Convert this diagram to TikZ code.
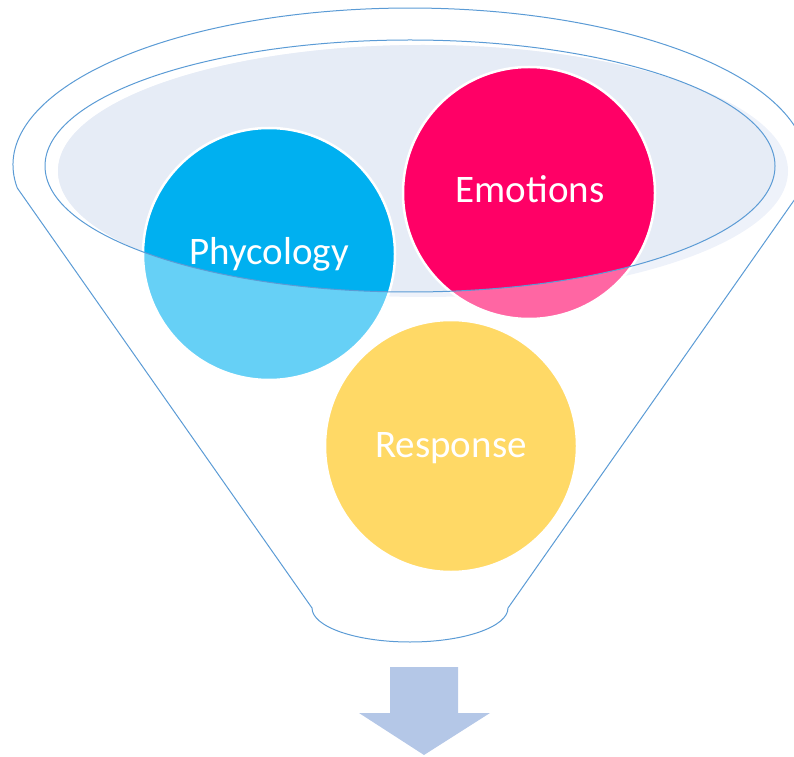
\documentclass[tikz,border=0pt]{standalone}
\usepackage{fontspec}
\setmainfont{Carlito}
\definecolor{lineblue}{HTML}{5B9BD5}
\definecolor{fillout}{HTML}{EEF2FA}
\definecolor{fillin}{HTML}{E6ECF6}
\definecolor{phyc}{HTML}{00B0F0}
\definecolor{phyl}{HTML}{66D0F6}
\definecolor{emoc}{HTML}{FF0066}
\definecolor{emol}{HTML}{FF66A3}
\definecolor{resc}{HTML}{FFC000}
\definecolor{resl}{HTML}{FFD966}
\definecolor{arrowc}{HTML}{B4C7E7}
\begin{document}
\begin{tikzpicture}[x=1pt,y=1pt,
  funnelline/.style={draw=lineblue,line width=1pt},
  ring/.style={draw=white,line width=2.5pt},
  lbl/.style={text=white,font=\fontsize{39}{46}\selectfont,anchor=base,inner sep=0pt}]
\useasboundingbox (0,0) rectangle (794,756);
% funnel outline
\draw[funnelline,line join=round] (17.3,568) arc[start angle=188.42,end angle=-8.42,x radius=397,y radius=157]
  -- (508,148) arc[start angle=0,end angle=-180,x radius=98,y radius=34] -- cycle;
% light fill of the mouth
\fill[fillout] (423,585) ellipse[x radius=365,y radius=126];
\begin{scope}
  \clip (410,590) ellipse[x radius=365,y radius=126];
  \fill[fillin] (423,585) ellipse[x radius=365,y radius=126];
\end{scope}
% circles, lighter part
\fill[phyl] (269,502) circle[radius=126];
\fill[emol] (529,563) circle[radius=126];
\fill[resl] (451,310) circle[radius=126];
% circles, full colour inside the mouth
\begin{scope}
  \clip (410,590) ellipse[x radius=365,y radius=126];
  \fill[phyc] (269,502) circle[radius=126];
  \fill[emoc] (529,563) circle[radius=126];
  \fill[resc] (451,310) circle[radius=126];
\end{scope}
\draw[ring] (269,502) circle[radius=126];
\draw[ring] (529,563) circle[radius=126];
\draw[ring] (451,310) circle[radius=126];
% inner rim
\draw[funnelline] (410,590) ellipse[x radius=365,y radius=126];
% labels
\node[lbl] (phy) at (269,491) {Phycology};
\node[lbl] (emo) at (530,553) {Emotions};
\node[lbl] (res) at (451,299) {Response};
% arrow
\fill[arrowc] (390,89) -- (458,89) -- (458,43) -- (490,43) -- (424,1) -- (359,43) -- (390,43) -- cycle;
\end{tikzpicture}
\end{document}
